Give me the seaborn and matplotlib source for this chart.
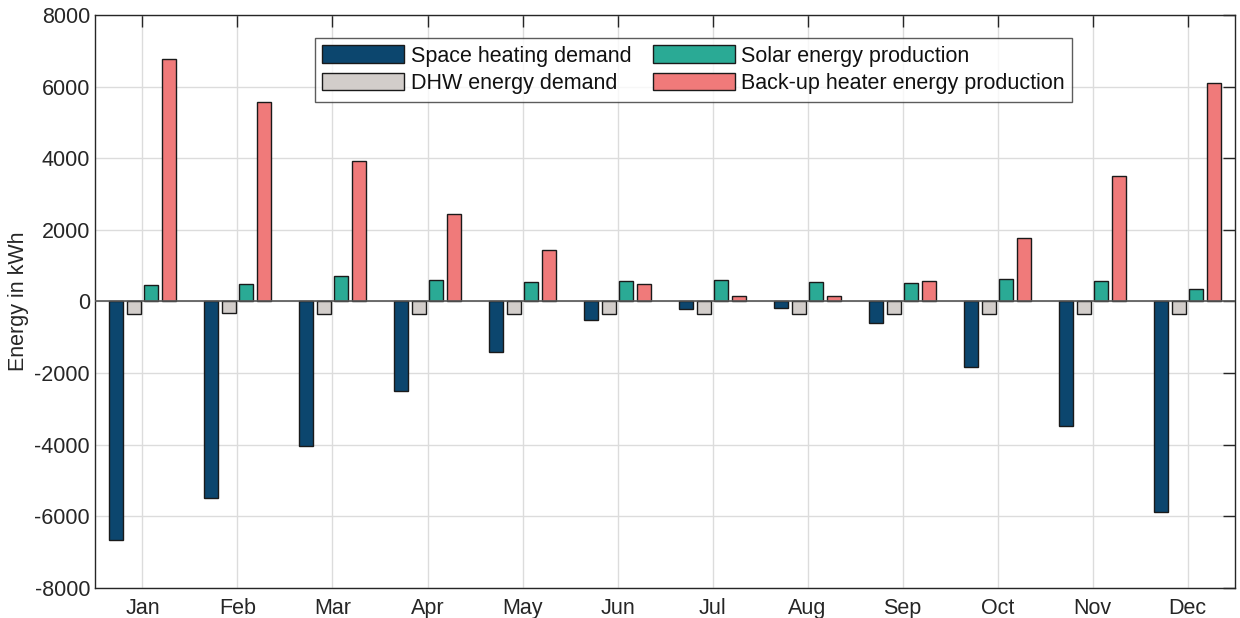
import numpy as np
import pandas as pd
import matplotlib
matplotlib.use('Agg')
import matplotlib.pyplot as plt
import seaborn as sns

# --- data (kWh) ---
months = ['Jan', 'Feb', 'Mar', 'Apr', 'May', 'Jun',
          'Jul', 'Aug', 'Sep', 'Oct', 'Nov', 'Dec']
space_heating = [-6650, -5500, -4040, -2500, -1410, -520,
                 -220, -185, -590, -1830, -3490, -5870]
dhw_demand = [-345, -320, -345, -345, -345, -345,
              -360, -360, -345, -345, -345, -345]
solar_prod = [450, 490, 700, 610, 540, 570,
              590, 550, 530, 630, 560, 355]
backup_prod = [6770, 5560, 3920, 2440, 1450, 480,
               150, 150, 580, 1770, 3500, 6100]

bar_order = ['Space heating demand', 'DHW energy demand',
             'Solar energy production', 'Back-up heater energy production']
colors = {'Space heating demand': '#0C466E',
          'DHW energy demand': '#D2CDCA',
          'Solar energy production': '#2AAA95',
          'Back-up heater energy production': '#F07A7A'}

df = pd.DataFrame({
    'Month': months * 4,
    'Series': np.repeat(bar_order, len(months)),
    'Energy': space_heating + dhw_demand + solar_prod + backup_prod,
})

sns.set_style('white')
plt.rcParams['font.family'] = ['Liberation Sans', 'DejaVu Sans']
plt.rcParams['axes.unicode_minus'] = False

FS = 15.5
DARK = '#262626'

fig = plt.figure(figsize=(12.4, 6.18), dpi=100)
ax = fig.add_axes([0.0766, 0.0486, 0.9194, 0.9271])

sns.barplot(data=df, x='Month', y='Energy', hue='Series', order=months,
            hue_order=bar_order, palette=colors, saturation=1,
            width=0.74, gap=0.2, edgecolor='#1a1a1a', linewidth=1.0,
            ax=ax, zorder=3)

ax.axhline(0, color='#555555', lw=1.2, zorder=4)
ax.set_xlim(-0.5, 11.5)
ax.set_ylim(-8000, 8000)
ax.set_yticks(np.arange(-8000, 8001, 2000))
ax.set_xlabel('')
ax.set_ylabel('Energy in kWh', fontsize=FS, color=DARK)
ax.tick_params(axis='both', direction='in', length=8.5, width=1.0,
               labelsize=FS, top=True, right=True, color=DARK,
               labelcolor=DARK)
ax.tick_params(axis='x', pad=7)
ax.grid(True, color='#dcdcdc', lw=1, zorder=0)
ax.set_axisbelow(True)
for sp in ax.spines.values():
    sp.set_color(DARK)
    sp.set_linewidth(1.0)

# legend: two columns, column-major as in the reference
handles, labels = ax.get_legend_handles_labels()
hmap = dict(zip(labels, handles))
leg = ax.legend([hmap[l] for l in bar_order], bar_order, ncol=2,
                loc='upper center', bbox_to_anchor=(0.525, 0.960),
                fontsize=FS, frameon=True, fancybox=False,
                handlelength=3.8, handleheight=0.85, handletextpad=0.3,
                columnspacing=1.0, labelspacing=0.3, borderpad=0.35,
                borderaxespad=0)
leg.get_frame().set_edgecolor('#333333')
leg.get_frame().set_linewidth(1.0)
for t in leg.get_texts():
    t.set_color('#111111')

fig.savefig('out.png', dpi=100)
